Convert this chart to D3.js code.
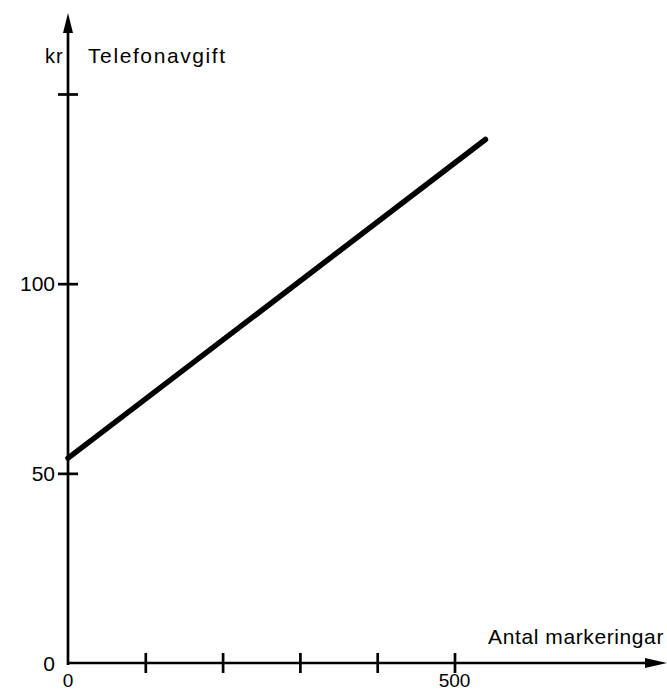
<!DOCTYPE html>
<html><head><meta charset="utf-8">
<script src="https://cdn.jsdelivr.net/npm/d3@7"></script>
<style>
html,body{margin:0;padding:0;background:#fff;}
svg{display:block;}
text{font-family:"Liberation Sans",Arial,sans-serif;fill:#000;}
</style></head>
<body>
<svg id="chart" width="667" height="692"></svg>
<script>
// Data
const xValues = [0, 540];
const yValues = [54, 138];
const xTicks = [100, 200, 300, 400, 500];
const xTickLabels = [0, 500];
const yTicks = [50, 100, 150];
const yTickLabels = [0, 50, 100];
const yUnit = "kr";
const yTitle = "Telefonavgift";
const xTitle = "Antal markeringar";

const svg = d3.select("#chart");
const x = d3.scaleLinear().domain([0, 500]).range([68, 454.5]);
const y = d3.scaleLinear().domain([0, 150]).range([663, 94]);

const axisW = 2.7;
// axes lines
svg.append("line").attr("x1", x(0)).attr("x2", x(0)).attr("y1", y(0)+2).attr("y2", 30)
  .attr("stroke", "#000").attr("stroke-width", axisW);
svg.append("line").attr("x1", x(0)-1).attr("x2", 650).attr("y1", y(0)).attr("y2", y(0))
  .attr("stroke", "#000").attr("stroke-width", axisW);
// arrowheads
svg.append("path").attr("d", `M${x(0)},13 L${x(0)-5},33 L${x(0)+5},33 Z`).attr("fill", "#000");
svg.append("path").attr("d", `M667,${y(0)} L645,${y(0)-5} L645,${y(0)+5} Z`).attr("fill", "#000");

// y axis ticks (d3 axis, custom styled)
const yAxis = d3.axisLeft(y).tickValues(yTicks).tickSize(0).tickFormat("");
const gy = svg.append("g").attr("transform", `translate(${x(0)},0)`).call(yAxis);
gy.select(".domain").remove();
gy.selectAll(".tick line").remove();
gy.selectAll(".tick").append("line").attr("x1", -10).attr("x2", 10)
  .attr("stroke", "#000").attr("stroke-width", axisW);
svg.selectAll(".ylab").data(yTickLabels).enter().append("text")
  .attr("x", x(0) - 13).attr("y", d => y(d)).attr("dy", "0.36em")
  .attr("text-anchor", "end").attr("font-size", 21).text(d => d);

// x axis ticks
const xAxis = d3.axisBottom(x).tickValues(xTicks).tickSize(0).tickFormat("");
const gx = svg.append("g").attr("transform", `translate(0,${y(0)})`).call(xAxis);
gx.select(".domain").remove();
gx.selectAll(".tick line").remove();
gx.selectAll(".tick").append("line").attr("y1", -10).attr("y2", 10)
  .attr("stroke", "#000").attr("stroke-width", axisW);
svg.selectAll(".xlab").data(xTickLabels).enter().append("text")
  .attr("x", d => x(d)).attr("y", 687)
  .attr("text-anchor", "middle").attr("font-size", 19).text(d => d);

// titles
svg.append("text").attr("x", 45).attr("y", 63).attr("font-size", 20).attr("letter-spacing", 1).text(yUnit);
svg.append("text").attr("x", 88).attr("y", 63).attr("font-size", 21).attr("letter-spacing", 1.6).text(yTitle);
svg.append("text").attr("x", 664).attr("y", 644).attr("text-anchor", "end").attr("font-size", 21).attr("letter-spacing", 0.6).text(xTitle);

// data line
const line = d3.line().x(d => x(d[0])).y(d => y(d[1]));
svg.append("path").datum(xValues.map((v, i) => [v, yValues[i]]))
  .attr("d", line).attr("fill", "none").attr("stroke", "#000")
  .attr("stroke-width", 5.5).attr("stroke-linecap", "round");
</script>
</body></html>
